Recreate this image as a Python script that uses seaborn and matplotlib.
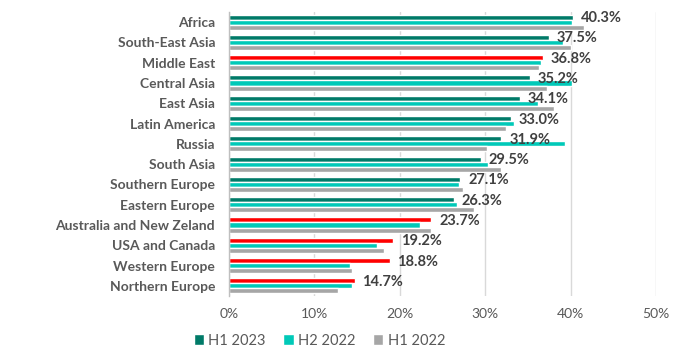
import matplotlib
matplotlib.use("Agg")
import matplotlib.pyplot as plt
import seaborn as sns
import pandas as pd
import numpy as np

regions = ["Africa", "South-East Asia", "Middle East", "Central Asia", "East Asia",
           "Latin America", "Russia", "South Asia", "Southern Europe", "Eastern Europe",
           "Australia and New Zeland", "USA and Canada", "Western Europe", "Northern Europe"]
h1_2023 = [40.3, 37.5, 36.8, 35.2, 34.1, 33.0, 31.9, 29.5, 27.1, 26.3, 23.7, 19.2, 18.8, 14.7]
h2_2022 = [40.2, 39.1, 36.5, 40.2, 36.2, 33.4, 39.3, 30.3, 26.9, 26.7, 22.4, 17.3, 14.2, 14.4]
h1_2022 = [41.6, 40.0, 36.3, 37.2, 38.1, 32.4, 30.2, 31.8, 27.4, 28.7, 23.6, 18.1, 14.4, 12.8]
red_regions = ["Middle East", "Australia and New Zeland", "USA and Canada",
               "Western Europe", "Northern Europe"]
series = ["H1 2023", "H2 2022", "H1 2022"]
colors = ["#007A68", "#00C9B8", "#A6A6A6"]
red = "#FF0000"

df = pd.DataFrame({
    "Region": regions * 3,
    "Period": [s for s in series for _ in regions],
    "Value": [v / 100 for v in h1_2023 + h2_2022 + h1_2022],
})

sns.set_theme(style="white")
plt.rcParams["font.family"] = ["Lato", "DejaVu Sans"]

fig = plt.figure(figsize=(6.9, 3.57), dpi=100)
ax = fig.add_axes([229 / 690, 1 - 296 / 357, (656 - 229) / 690, (296 - 12) / 357])

sns.barplot(data=df, y="Region", x="Value", hue="Period", order=regions,
            hue_order=series, palette=colors, orient="h", width=0.75,
            saturation=1, ax=ax, legend=True)

# recolor red H1 2023 bars
first = ax.containers[0]
for patch, reg in zip(first, regions):
    if reg in red_regions:
        patch.set_facecolor(red)

ax.set_xlim(0, 0.5)
ax.set_ylim(len(regions) - 0.5, -0.5)
ax.set_xticks(np.arange(0, 0.51, 0.1))
ax.set_xticklabels([f"{int(round(t * 100))}%" for t in np.arange(0, 0.51, 0.1)],
                   fontsize=10, color="#595959")
ax.tick_params(axis="x", length=0, pad=9)
ax.tick_params(axis="y", length=0, pad=10)
for lab in ax.get_yticklabels():
    lab.set_fontweight("bold")
    lab.set_fontsize(10)
    lab.set_color("#595959")
ax.set_xlabel("")
ax.set_ylabel("")
ax.grid(axis="x", color="#D9D9D9", linewidth=1)
ax.set_axisbelow(True)
for s in ["top", "right", "bottom"]:
    ax.spines[s].set_visible(False)
ax.spines["left"].set_color("#BFBFBF")
ax.spines["left"].set_linewidth(1)

for i, v in enumerate(h1_2023):
    ax.text(v / 100 + 0.009, i - 0.2, f"{v:.1f}%", va="center", ha="left",
            fontsize=10.5, fontweight="bold", color="#404040")

leg = ax.get_legend()
handles, labels = ax.get_legend_handles_labels()
leg.remove()
fig.legend(handles, labels, loc="center", bbox_to_anchor=(0.463, 0.046), ncol=3,
           frameon=False, fontsize=10.5, handlelength=0.7, handleheight=0.7,
           handletextpad=0.3, columnspacing=1.2, labelcolor="#595959")

fig.savefig("out.png", dpi=100)
